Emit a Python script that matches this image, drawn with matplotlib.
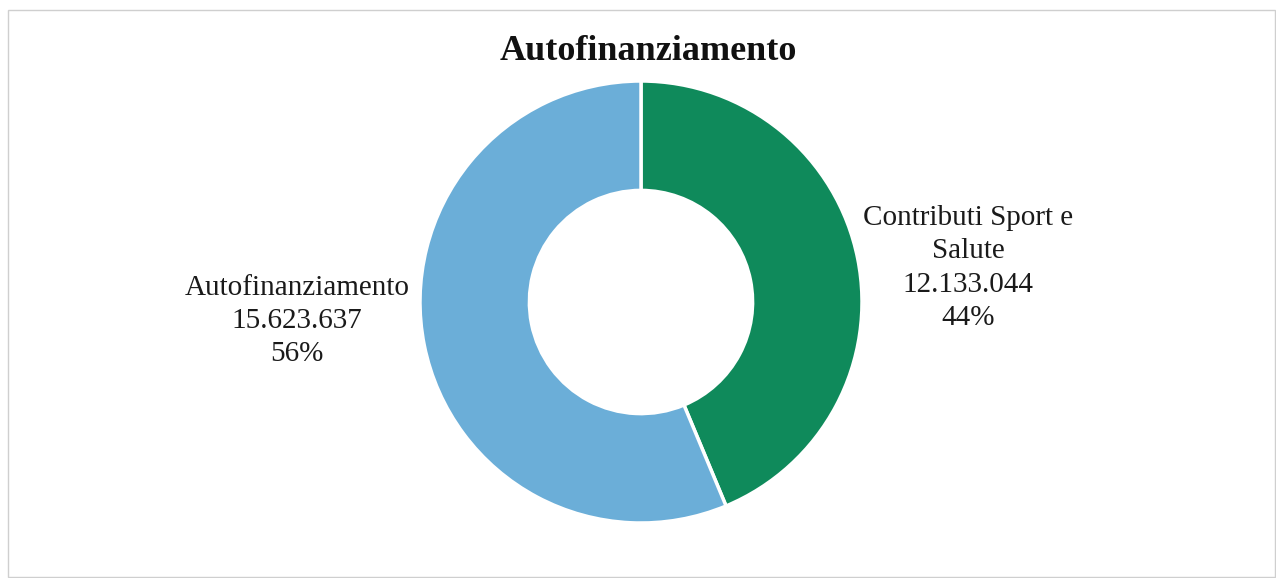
import matplotlib
matplotlib.use("Agg")
import matplotlib.pyplot as plt
from matplotlib.patches import Rectangle

categories = ["Contributi Sport e\nSalute", "Autofinanziamento"]
values = [12133044, 15623637]
colors = ["#0F8A5B", "#6BAED8"]
title = "Autofinanziamento"

plt.rcParams['font.family'] = ['Liberation Serif', 'DejaVu Serif']

W, H = 1276, 578
fig = plt.figure(figsize=(W/100, H/100), dpi=100)
fig.patch.set_facecolor("white")

cx, cy, r = 641, 302, 221
ax = fig.add_axes([(cx - r)/W, (H - cy - r)/H, 2*r/W, 2*r/H])
wedges, _ = ax.pie(values, colors=colors, startangle=90, counterclock=False,
                   radius=1.0, wedgeprops=dict(width=0.495, edgecolor="white", linewidth=2.5))
ax.set_xlim(-1, 1); ax.set_ylim(-1, 1)
ax.set_aspect("equal")

total = sum(values)
def fmt(v):
    return f"{v:,}".replace(",", ".")

label_pos = [(1.48, 0.154), (-1.557, -0.086)]
for cat, v, (lx, ly) in zip(categories, values, label_pos):
    txt = f"{cat}\n{fmt(v)}\n{round(100*v/total)}%"
    ax.text(lx, ly, txt, ha="center", va="center", fontsize=21, color="#1a1a1a",
            linespacing=1.36, clip_on=False)

fig.text(648/W, 1 - 51/H, title, ha="center", va="center", fontsize=26,
         fontweight="bold", color="#111111")

fig.patches.append(Rectangle((8/W, 1/H), (W - 9)/W, (H - 11)/H, transform=fig.transFigure,
                             fill=False, edgecolor="#cfcfcf", linewidth=1))

fig.savefig("out.png", dpi=100)
